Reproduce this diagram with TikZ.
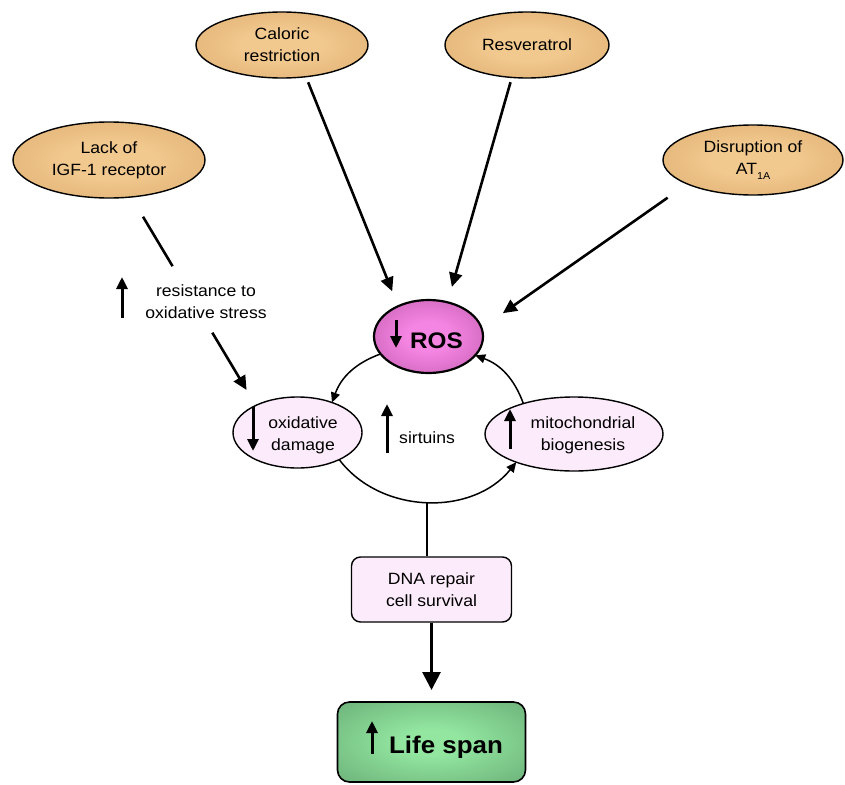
\documentclass[tikz,border=0pt]{standalone}
\usepackage{fontspec}
\setmainfont[FakeStretch=1.08]{Liberation Sans}
\usetikzlibrary{arrows.meta,calc,shapes.geometric}
\definecolor{tanin}{HTML}{F1C88E}
\definecolor{tanout}{HTML}{D49E5F}
\definecolor{rosin}{HTML}{F585E2}
\definecolor{rosout}{HTML}{AA4A9A}
\definecolor{lifein}{HTML}{92E6A0}
\definecolor{lifeout}{HTML}{5A9866}
\definecolor{pinkfill}{HTML}{FCEBFA}
\pgfdeclareradialshading{tanshade}{\pgfpoint{0bp}{0bp}}{color(0bp)=(tanin); color(12bp)=(tanin); color(50bp)=(tanout); color(75bp)=(tanout)}
\pgfdeclareradialshading{rosshade}{\pgfpoint{0bp}{0bp}}{color(0bp)=(rosin); color(10bp)=(rosin); color(50bp)=(rosout); color(75bp)=(rosout)}
\pgfdeclareradialshading{lifeshade}{\pgfpoint{0bp}{0bp}}{color(0bp)=(lifein); color(8bp)=(lifein); color(50bp)=(lifeout); color(75bp)=(lifeout)}
\tikzset{
  tanell/.style={ellipse, draw, line width=1.4pt, shading=tanshade, inner sep=0pt, outer sep=0pt, align=center},
  pinkell/.style={ellipse, draw, line width=1.4pt, fill=pinkfill, inner sep=0pt, outer sep=0pt},
  conn/.style={line width=2.6pt, -{Triangle[length=14pt,width=13pt]}},
  plainline/.style={line width=2.6pt},
  cyc/.style={line width=1.5pt, -{Triangle[length=10pt,width=9pt]}},
  smallarr/.style={line width=3pt, -{Triangle[length=12pt,width=11pt]}},
  bigarr/.style={line width=2.8pt, -{Triangle[length=18pt,width=18pt]}},
  txt/.style={align=center, inner sep=0pt},
  boldbig/.style={font=\bfseries\fontsize{22.5}{24}\selectfont, inner sep=0pt}
}
\begin{document}
\begin{tikzpicture}[x=1pt,y=-1pt, font=\fontsize{16.3}{22}\selectfont]
\useasboundingbox (0,0) rectangle (845,784);

% top inputs
\node[tanell, minimum width=172pt, minimum height=66pt] (cr) at (282,45) {Caloric\\restriction};
\node[tanell, minimum width=164pt, minimum height=66pt] (rv) at (527,45) {Resveratrol};
\node[tanell, minimum width=192pt, minimum height=76pt] (igf) at (109,160) {Lack of\\IGF-1 receptor};
\node[tanell, minimum width=180pt, minimum height=70pt] (dis) at (753,160) {Disruption of\\AT\raisebox{-5pt}{\fontsize{10}{10}\selectfont 1A}};

% ROS
\node[ellipse, draw, line width=2.2pt, shading=rosshade, minimum width=109pt, minimum height=73pt, inner sep=0pt, outer sep=0pt] (ros) at (428.5,336.5) {};
\node[boldbig, anchor=base] (rostxt) at (436.5,348) {ROS};
\draw[smallarr] (396,320) -- (396,348);

% cycle members
\node[pinkell, minimum width=129pt, minimum height=71pt] (od) at (297.5,432.5) {};
\node[txt] (odtxt) at (303,435) {oxidative\\damage};
\draw[smallarr] (253,407) -- (253,451);

\node[pinkell, minimum width=178pt, minimum height=74pt] (mito) at (574,434) {};
\node[txt] (mitotxt) at (583,435) {mitochondrial\\biogenesis};
\draw[smallarr] (510,449) -- (510,409);

\node[txt, anchor=base west] (sirt) at (399,443) {sirtuins};
\draw[smallarr] (387,453) -- (387,404);

% resistance label
\node[txt] (res) at (206,302) {resistance to\\oxidative stress};
\draw[smallarr] (122,318) -- (122,277);

% bottom boxes
\node[rectangle, rounded corners=9pt, draw, line width=1.4pt, fill=pinkfill, minimum width=160pt, minimum height=65pt, align=center, inner sep=0pt] (dna) at (431.5,589.5) {DNA repair\\cell survival};
\node[rectangle, rounded corners=12pt, draw, line width=1.6pt, shading=lifeshade, minimum width=188pt, minimum height=80pt, inner sep=0pt, outer sep=0pt] (life) at (431.5,742) {};
\node[font=\bfseries\fontsize{24}{26}\selectfont, inner sep=0pt, anchor=base] (lifetxt) at (446,753) {Life span};
\draw[smallarr] (372,754) -- (372,721);

% connectors to ROS
\draw[conn, shorten <=6pt, shorten >=16pt] (cr.-53) -- (ros.135);
\draw[conn, shorten <=5pt, shorten >=16pt] (rv.-115) -- (ros.61);
\draw[conn, shorten <=24pt, shorten >=26pt] (dis.-160) -- (ros.9);

% IGF connector, interrupted by label
\draw[plainline, shorten <=23pt] (igf.-59) -- ($(igf.-59)!0.332!(od.147)$);
\draw[conn, shorten >=18pt] ($(igf.-59)!0.651!(od.147)$) -- (od.147);

% cycle
\draw[cyc] (ros.-160) to[bend right=25] (od.41);
\draw[cyc] (od.-33) to[bend right=52] coordinate[pos=0.5] (arcmid) (mito.-154);
\draw[cyc] (mito.149) to[bend right=25] (ros.-22);

% downstream
\draw[plainline] (arcmid) -- (arcmid |- dna.north);
\draw[bigarr, shorten >=12pt] (dna.south) -- (life.north);
\end{tikzpicture}
\end{document}
